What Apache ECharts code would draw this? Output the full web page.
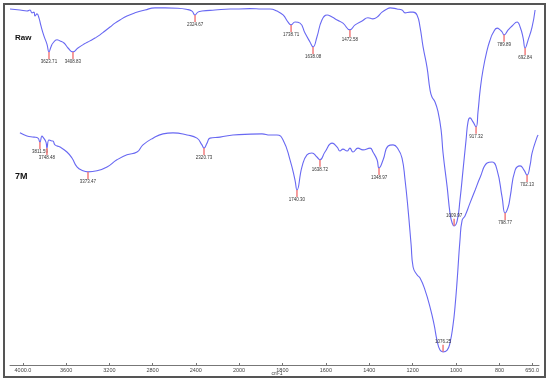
<!DOCTYPE html>
<html>
<head>
<meta charset="utf-8">
<script src="https://cdn.jsdelivr.net/npm/echarts@6/dist/echarts.min.js"></script>
<style>
  html, body { margin: 0; padding: 0; background: #fff; }
  #main { width: 550px; height: 385px; }
</style>
</head>
<body>
<div id="main"></div>
<script>
// Wavenumber (cm-1) and offset transmittance (%T)
var rawWn = [4120, 4028, 3963, 3935, 3917, 3898, 3889, 3870, 3852, 3833, 3806, 3778, 3759, 3741, 3722,
  3685, 3657, 3620, 3583, 3537, 3491, 3435, 3380, 3333, 3287, 3241, 3194, 3148, 3102, 3037,
  2963, 2870, 2778, 2685, 2565, 2472, 2435, 2407, 2380, 2343, 2222, 2083, 2000,
  1949, 1894, 1857, 1825, 1797, 1774, 1760, 1742, 1719, 1696, 1673, 1659, 1641, 1618, 1594,
  1571, 1548, 1521, 1489, 1465, 1433, 1406, 1383, 1364, 1341, 1318, 1304, 1272, 1249, 1235,
  1212, 1198, 1180, 1166, 1152, 1134, 1120, 1111, 1097, 1083, 1069, 1060, 1041, 1028, 1018,
  1009, 995, 982, 968, 954, 945, 936, 922, 908, 899, 889, 876, 857, 843, 830,
  811, 797, 788, 779, 760, 742, 719, 705, 691, 682, 668, 650, 636];
var rawT = [100.3, 100.0, 99.7, 100.0, 99.2, 99.4, 98.3, 98.9, 97.8, 95.5, 92.7, 90.4, 88.2, 89.6, 90.7,
  91.6, 91.3, 90.7, 89.3, 88.2, 89.3, 90.4, 91.3, 92.1, 93.0, 94.1, 95.2, 96.3, 97.2, 98.3,
  99.2, 100.0, 100.6, 100.6, 100.5, 100.1, 99.7, 98.6, 99.4, 99.7, 100.0, 100.3, 100.3,
  100.4, 100.3, 100.3, 99.7, 98.6, 96.6, 95.8, 96.6, 96.3, 93.5, 91.0, 89.6, 92.4, 97.2, 98.6,
  98.0, 97.2, 96.3, 94.4, 95.8, 96.9, 97.8, 97.5, 98.0, 99.4, 100.3, 100.6, 100.3, 100.0, 99.2,
  99.4, 99.4, 98.6, 95.2, 89.6, 83.9, 77.5, 75.5, 74.1, 71.3, 66.2, 59.7, 50.1, 42.8, 40.0,
  39.2, 40.6, 46.5, 54.9, 63.4, 68.5, 69.6, 68.5, 67.1, 71.3, 77.5, 83.1, 88.7, 91.6, 93.5,
  94.9, 94.4, 93.8, 93.0, 94.4, 95.5, 96.6, 95.2, 92.1, 89.3, 91.6, 95.2, 100.0];

var m7Wn = [4028, 3963, 3898, 3861, 3843, 3824, 3815, 3787, 3778, 3759, 3731, 3722, 3704, 3657, 3593,
  3546, 3500, 3444, 3398, 3315, 3222, 3130, 3037, 2944, 2889, 2796, 2704, 2611, 2481, 2389,
  2343, 2324, 2296, 2269, 2176, 2056, 2000,
  1894, 1857, 1825, 1797, 1765, 1742, 1733, 1710, 1687, 1664, 1641, 1627, 1604, 1571, 1548,
  1535, 1521, 1502, 1489, 1475, 1452, 1429, 1396, 1383, 1364, 1355, 1336, 1313, 1290, 1267,
  1249, 1235, 1221, 1207, 1198, 1180, 1166, 1143, 1120, 1101, 1088, 1074, 1060, 1041, 1028,
  1014, 1005, 995, 982, 972, 959, 936, 912, 889, 857, 834, 811, 788, 774, 760,
  751, 728, 705, 687, 673, 659, 650, 627, 622];
var m7T = [65.4, 64.5, 64.2, 63.9, 62.8, 64.5, 64.2, 62.8, 61.1, 63.4, 63.1, 63.1, 62.0, 61.4, 60.0,
  58.3, 55.8, 54.7, 54.4, 54.7, 55.8, 57.8, 59.2, 60.0, 62.0, 63.9, 65.1, 65.4, 64.8, 63.9,
  62.0, 61.1, 62.5, 63.9, 64.2, 64.8, 64.9,
  65.1, 64.8, 64.8, 63.4, 57.8, 52.1, 49.3, 55.8, 59.2, 59.7, 58.6, 57.8, 60.0, 62.5, 61.4,
  60.3, 60.8, 60.3, 61.1, 60.0, 61.1, 60.6, 61.1, 60.0, 57.8, 55.5, 57.8, 61.7, 62.0, 60.8,
  58.3, 52.1, 43.7, 33.8, 27.6, 25.4, 24.5, 21.1, 16.3, 11.3, 7.0, 4.2, 3.7, 4.2, 6.2,
  11.3, 16.3, 23.9, 35.2, 40.8, 42.0, 45.6, 49.3, 52.9, 56.9, 57.2, 54.9, 47.3, 42.8, 44.5,
  47.3, 54.9, 56.1, 54.9, 53.5, 56.3, 59.7, 64.2, 64.8];

// peak picks: where the marker sits on the curve, and the printed value
var rawPeakWn = [3759, 3537, 2407, 1760, 1659, 1489, 1009, 908, 779, 682];
var rawPeakT = [88.2, 88.2, 98.6, 95.8, 89.6, 94.4, 39.2, 67.1, 93.0, 89.3];
var rawPeakText = ['3623.71', '3408.83', '2324.67', '1738.71', '1638.08', '1472.58', '1009.97', '917.32', '789.89', '692.84'];

var m7PeakWn = [3843, 3778, 3398, 2324, 1733, 1627, 1355, 1060, 774, 673];
var m7PeakT = [62.8, 61.1, 54.4, 61.1, 49.3, 57.8, 55.5, 3.7, 42.8, 53.5];
var m7PeakText = ['3811.59', '3748.48', '3373.47', '2320.73', '1740.30', '1638.72', '1348.97', '1076.25', '798.77', '702.13'];

var labelsAbove = ['1009.97', '1076.25'];

var highTicks = [4000, 3600, 3200, 2800, 2400, 2000];
var lowTicks = [1800, 1600, 1400, 1200, 1000, 800, 650];

var LINE_COLOR = '#6868f2';
var PEAK_COLOR = '#f27c7c';
var FONT = 'Liberation Sans';

function part(wn, t, upper) {
  var out = [];
  for (var i = 0; i < wn.length; i++) {
    if (upper ? wn[i] >= 2000 : wn[i] <= 2000) out.push([wn[i], t[i]]);
  }
  return out;
}

function peakData(wn, t, text, upper) {
  var data = [], labels = [];
  for (var i = 0; i < wn.length; i++) {
    if (upper ? wn[i] >= 2000 : wn[i] < 2000) {
      data.push([wn[i], t[i], labelsAbove.indexOf(text[i]) >= 0 ? -1 : 1]);
      labels.push(text[i]);
    }
  }
  return { data: data, labels: labels };
}

function peakSeries(p, idx) {
  return {
    type: 'custom',
    xAxisIndex: idx,
    yAxisIndex: idx,
    z: 5,
    silent: true,
    data: p.data,
    renderItem: function (params, api) {
      var pt = api.coord([api.value(0), api.value(1)]);
      var dir = api.value(2);
      var end = pt[1] + dir * 7;
      return {
        type: 'group',
        children: [
          { type: 'line', shape: { x1: pt[0], y1: pt[1], x2: pt[0], y2: end },
            style: { stroke: PEAK_COLOR, lineWidth: 1.5 } },
          { type: 'text', x: pt[0], y: end + dir * 3,
            style: { text: p.labels[params.dataIndex], fontSize: 4.5, fontFamily: FONT,
              fill: '#333', align: 'center', verticalAlign: 'middle' } }
        ]
      };
    }
  };
}

function lineSeries(data, idx) {
  return {
    type: 'line',
    xAxisIndex: idx,
    yAxisIndex: idx,
    data: data,
    showSymbol: false,
    smooth: 0.5,
    clip: false,
    silent: true,
    lineStyle: { color: LINE_COLOR, width: 1.1 }
  };
}

function xAxisFor(idx, min, max, ticks) {
  return {
    type: 'value',
    gridIndex: idx,
    min: min,
    max: max,
    inverse: true,
    axisLine: { lineStyle: { color: '#777', width: 1 } },
    axisTick: { inside: true, length: 2, customValues: ticks, lineStyle: { color: '#777' } },
    axisLabel: {
      customValues: ticks,
      margin: 2,
      fontSize: 5.5,
      fontFamily: FONT,
      color: '#444',
      formatter: function (v) { return (v === 4000 || v === 650) ? v.toFixed(1) : String(v); }
    },
    splitLine: { show: false }
  };
}

var myChart = echarts.init(document.getElementById('main'));

var option = {
  animation: false,
  backgroundColor: '#fff',
  grid: [
    { left: 10, width: 229, top: 10, bottom: 20 },
    { left: 239, width: 300, top: 10, bottom: 20 }
  ],
  xAxis: [
    xAxisFor(0, 2000, 4120, highTicks),
    xAxisFor(1, 618, 2000, lowTicks)
  ],
  yAxis: [
    { type: 'value', gridIndex: 0, min: 0, max: 100, show: false },
    { type: 'value', gridIndex: 1, min: 0, max: 100, show: false }
  ],
  series: [
    lineSeries(part(rawWn, rawT, true), 0),
    lineSeries(part(m7Wn, m7T, true), 0),
    lineSeries(part(rawWn, rawT, false), 1),
    lineSeries(part(m7Wn, m7T, false), 1),
    peakSeries(peakData(rawPeakWn, rawPeakT, rawPeakText, true), 0),
    peakSeries(peakData(m7PeakWn, m7PeakT, m7PeakText, true), 0),
    peakSeries(peakData(rawPeakWn, rawPeakT, rawPeakText, false), 1),
    peakSeries(peakData(m7PeakWn, m7PeakT, m7PeakText, false), 1)
  ],
  graphic: [
    { type: 'rect', shape: { x: 4, y: 4, width: 541, height: 373 },
      style: { fill: 'none', stroke: '#555', lineWidth: 2 } },
    { type: 'text', x: 15, y: 38,
      style: { text: 'Raw', fontSize: 8, fontWeight: 'bold', fontFamily: FONT, fill: '#111', verticalAlign: 'middle' } },
    { type: 'text', x: 15, y: 177,
      style: { text: '7M', fontSize: 9, fontWeight: 'bold', fontFamily: FONT, fill: '#111', verticalAlign: 'middle' } },
    { type: 'text', x: 277, y: 374,
      style: { text: 'cm-1', fontSize: 5, fontFamily: FONT, fill: '#444', align: 'center', verticalAlign: 'middle' } }
  ]
};

myChart.setOption(option);
</script>
</body>
</html>
